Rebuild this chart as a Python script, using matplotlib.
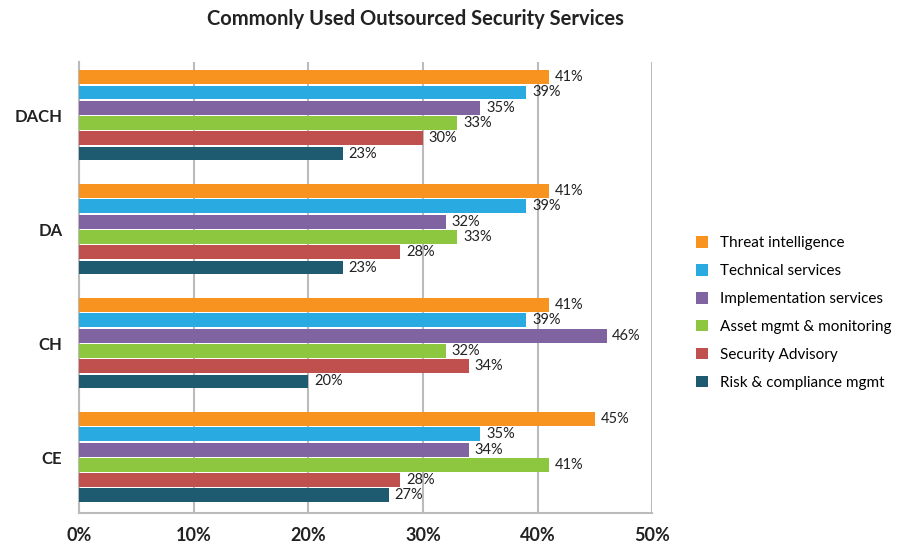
import matplotlib
matplotlib.use("Agg")
from matplotlib import pyplot as plt
from matplotlib.patches import Patch
import numpy as np

plt.rcParams['font.family'] = ['Lato', 'DejaVu Sans']

regions = ["DACH", "DA", "CH", "CE"]
services = ["Threat intelligence", "Technical services", "Implementation services",
            "Asset mgmt & monitoring", "Security Advisory", "Risk & compliance mgmt"]
colors = ["#F7931E", "#29ABE2", "#8064A2", "#8DC63F", "#C0504D", "#1F5B70"]

threat = [41, 41, 41, 45]
technical = [39, 39, 39, 35]
implementation = [35, 32, 46, 34]
asset = [33, 33, 32, 41]
advisory = [30, 28, 34, 28]
risk = [23, 23, 20, 27]
series = [threat, technical, implementation, asset, advisory, risk]

fig = plt.figure(figsize=(9.03, 5.47), dpi=100)
ax = fig.add_axes([0.0875, 0.062, 0.635, 0.825])

centers = np.arange(len(regions))[::-1]
pitch = 0.134
for i, (vals, c) in enumerate(zip(series, colors)):
    y = centers + (2.5 - i) * pitch
    ax.barh(y, vals, height=0.122, color=c, zorder=3)
    for yy, v in zip(y, vals):
        ax.text(v + 0.5, yy, "%d%%" % v, va="center", ha="left", fontsize=10.5, color="#222222")

ax.set_xlim(0, 50)
ax.set_ylim(-0.49, 3.47)
ax.set_xticks(np.arange(0, 51, 10))
ax.set_xticklabels(["%d%%" % t for t in range(0, 51, 10)], fontsize=13, fontweight="bold", color="#222222")
ax.set_yticks(centers)
ax.set_yticklabels(regions, fontsize=12, fontweight="bold", color="#222222")
ax.tick_params(axis="both", length=0, pad=10)
ax.tick_params(axis="y", pad=12)
ax.grid(axis="x", color="#BBBBBB", linewidth=1.5, zorder=0)
for s in ["top", "right"]:
    ax.spines[s].set_visible(False)
for s in ["left", "bottom"]:
    ax.spines[s].set_color("#BBBBBB")
    ax.spines[s].set_linewidth(1.5)

fig.text(0.46, 0.965, "Commonly Used Outsourced Security Services", ha="center", va="center",
         fontsize=14.5, fontweight="bold", color="#222222")

handles = [Patch(facecolor=c, edgecolor="none") for c in colors]
fig.legend(handles, services, loc="center left", bbox_to_anchor=(0.755, 0.428), frameon=False,
           fontsize=11, handlelength=0.8, handleheight=0.8, handletextpad=0.8, labelspacing=0.9)

fig.savefig("out.png", dpi=100)
